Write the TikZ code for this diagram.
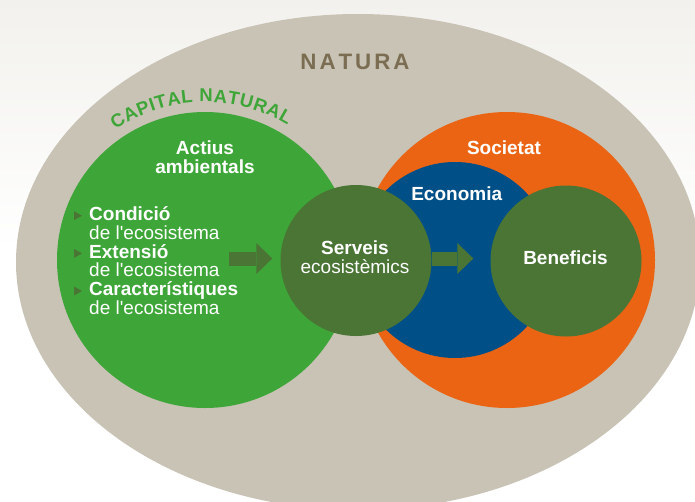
\documentclass[tikz,border=0pt]{standalone}
\usepackage{fontspec}
\newfontfamily\arialfam{Liberation Sans}
\usepackage{tikz}
\usetikzlibrary{arrows.meta,calc,positioning,shapes.geometric,decorations.text}
\definecolor{bgtop}{RGB}{242,241,237}
\definecolor{naturabg}{RGB}{200,195,181}
\definecolor{naturatxt}{RGB}{122,109,82}
\definecolor{capgreen}{RGB}{62,166,56}
\definecolor{servgreen}{RGB}{74,117,53}
\definecolor{socorange}{RGB}{235,100,20}
\definecolor{ecoblue}{RGB}{0,79,134}

\begin{document}
\begin{tikzpicture}[
    x=1pt,y=1pt,
    font=\arialfam\fontsize{19}{18.7}\selectfont,
    disc/.style={circle,inner sep=0pt,minimum size=#1},
    lbl/.style={text=white,font=\arialfam\fontsize{19}{18.7}\selectfont\bfseries,
      align=center,inner sep=0pt},
    item/.style={text=white,align=left,inner sep=0pt,anchor=base west},
    bullet/.style={fill=servgreen},
    flow/.style={draw=servgreen,line width=14pt,
      -{Triangle[length=16pt,width=31pt,line width=0pt]}}
  ]
    \useasboundingbox (0,0) rectangle (695,-501);
    \begin{scope}
      \clip (0,0) rectangle (695,-501);
      \shade[top color=bgtop,bottom color=white] (0,0) rectangle (695,-250);
      \node[ellipse,fill=naturabg,inner sep=0pt,minimum width=684pt,
        minimum height=496pt] (natura) at (358,-262) {};
    \end{scope}
    \node[anchor=base,inner sep=0pt,text=naturatxt,
      font=\arialfam\fontsize{22.3}{22}\selectfont\bfseries] (naturalbl) at (355,-69.3)
      {N\kern3pt A\kern3pt T\kern3pt U\kern3pt R\kern3pt A};

    % cercles
    \node[disc=296pt,fill=capgreen] (capital) at (205,-260) {};
    \node[disc=296pt,fill=socorange] (societat) at (507,-260) {};
    \node[disc=196pt,fill=ecoblue] (economia) at (455,-260) {};
    \node[disc=151pt,fill=servgreen] (serveis) at (356,-260.5) {};
    \node[disc=151pt,fill=servgreen] (beneficis) at (566,-261) {};

    \path[decorate,decoration={text along path,text align=fit to path,text color=capgreen,
        text={|\arialfam\fontsize{18.5}{18.5}\selectfont\bfseries|CAPITAL NATURAL}}]
      ($(capital.center)+(124.5:158)$) arc[start angle=124.5,end angle=58.5,radius=158];

    % etiquetes
    \node[lbl] (actius) at (205,-157.5) {Actius\\ambientals};
    \node[lbl,anchor=base] (societatlbl) at (504,-154) {Societat};
    \node[lbl,anchor=base] (economialbl) at (456.7,-200.7) {Economia};
    \node[lbl] (serveislbl) at (355,-257.3) {Serveis\\{\mdseries ecosistèmics}};
    \node[lbl,anchor=base] (beneficislbl) at (565.5,-264.3) {Beneficis};

    \foreach \n/\base/\nom in {1/220/Condició,2/257.7/Extensió,3/295.3/Característiques}{
      \node[item] (item\n) at (89,-\base-19) {\textbf{\nom}\\de l'ecosistema};
      \fill[bullet] (74,-\base+8.8) -- ++(8,-4.5) -- ++(-8,-4.5) -- cycle;
    }

    % fletxes
    \coordinate (a1) at (229,-258.5);
    \draw[flow] (a1) -- (a1 -| serveis.west) [shorten >=8pt];
    \draw[flow,shorten >=17pt] (a1 -| serveis.east) -- (a1 -| beneficis.west);
\end{tikzpicture}
\end{document}
